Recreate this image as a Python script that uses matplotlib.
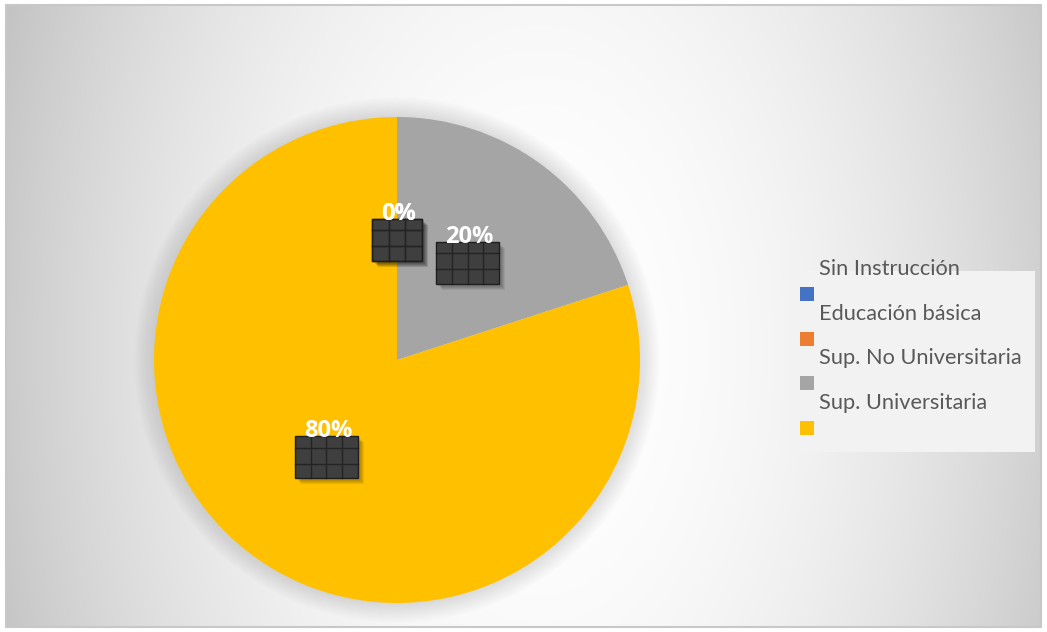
import numpy as np
import matplotlib
matplotlib.use("Agg")
import matplotlib.pyplot as plt
from matplotlib.patches import Rectangle, Circle

# Data
categories = ["Sin Instrucción", "Educación básica", "Sup. No Universitaria", "Sup. Universitaria"]
values = [0, 0, 20, 80]
colors = ["#4472C4", "#ED7D31", "#A5A5A5", "#FFC000"]

W, H = 1047, 632
fig = plt.figure(figsize=(W / 100, H / 100), dpi=100)
fig.patch.set_facecolor("white")

# Background: soft radial gradient inside a thin frame
bg = fig.add_axes([0, 0, 1, 1], zorder=0)
bg.set_xlim(0, W)
bg.set_ylim(H, 0)
bg.axis("off")
yy, xx = np.mgrid[0:H, 0:W]
d = np.hypot(xx - 540, (yy - 350) * 0.6)
drop = np.clip(0.22 * (d / 560.0) ** 2, 0, 0.27)
shade = 1.0 - drop
img = np.dstack([shade, shade, shade])
bg.imshow(img, extent=(6, W - 6, H - 5, 5), aspect="auto", zorder=0)
bg.add_patch(Rectangle((6, 5), W - 12, H - 10, fill=False, ec="#c8c8c8", lw=1.5, zorder=1))

# Pie axes
R_px = 243.0
cx, cy = 397.0, 360.0
lim = 1.12
side = 2 * lim * R_px
ax = fig.add_axes([(cx - side / 2) / W, (H - cy - side / 2) / H, side / W, side / H], zorder=2)

wedges, _ = ax.pie(values, colors=colors, startangle=90, counterclock=False, radius=1.0,
                   wedgeprops=dict(linewidth=0), normalize=True)
ax.set_xlim(-lim, lim)
ax.set_ylim(-lim, lim)
ax.set_aspect("equal")
ax.axis("off")
for w in wedges:
    w.set_zorder(2)

# soft halo around the pie
for k in range(10):
    ax.add_patch(Circle((0, 0), 1.0 + 0.008 * (k + 1), color="#808080", alpha=0.022, lw=0, zorder=1))

px = 1.0 / R_px
total = sum(values)
for w, v in zip(wedges, values):
    mid = np.deg2rad((w.theta1 + w.theta2) / 2)
    bx, by = 0.495 * np.cos(mid), 0.495 * np.sin(mid)
    label = f"{round(100 * v / total)}%"
    bw = (50 if len(label) < 3 else 63) * px
    bh = 42 * px
    x0, y0 = bx - bw / 2, by - bh / 2
    # drop shadow
    for s in range(4):
        ax.add_patch(Rectangle((x0 + (3 + s) * px, y0 - (3 + s) * px), bw, bh,
                               color="black", alpha=0.07, lw=0, zorder=3))
    ax.add_patch(Rectangle((x0, y0), bw, bh, color="#3f3f3f", lw=0, zorder=4))
    ncol = int(round(bw / px / 16))
    for c in range(1, ncol):
        xc = x0 + c * bw / ncol
        ax.plot([xc, xc], [y0, y0 + bh], color="#242424", lw=1.0, zorder=5)
    for r in (0.34, 0.72):
        yc = y0 + bh * r
        ax.plot([x0, x0 + bw], [yc, yc], color="#242424", lw=1.0, zorder=5)
    ax.add_patch(Rectangle((x0, y0), bw, bh, fill=False, ec="#1e1e1e", lw=1.0, zorder=5))
    ax.text(bx + 2 * px, by + 26 * px, label, color="white", fontsize=17, fontweight="bold",
            family="Open Sans", ha="center", va="center", zorder=6)

# Legend
lg = fig.add_axes([0, 0, 1, 1], zorder=3)
lg.set_xlim(0, W)
lg.set_ylim(H, 0)
lg.axis("off")
lg.add_patch(Rectangle((787, 271), 248, 181, color="#f2f2f2", lw=0))
row0, step = 294, 44.7
for i, (name, col) in enumerate(zip(categories, colors)):
    my = row0 + i * step
    lg.add_patch(Rectangle((800, my - 7), 14, 14, color=col, lw=0))
    lg.text(819, my - 19, name, color="#595959", fontsize=15.7, family="Lato",
            ha="left", va="baseline")

fig.savefig("out.png", dpi=100)
